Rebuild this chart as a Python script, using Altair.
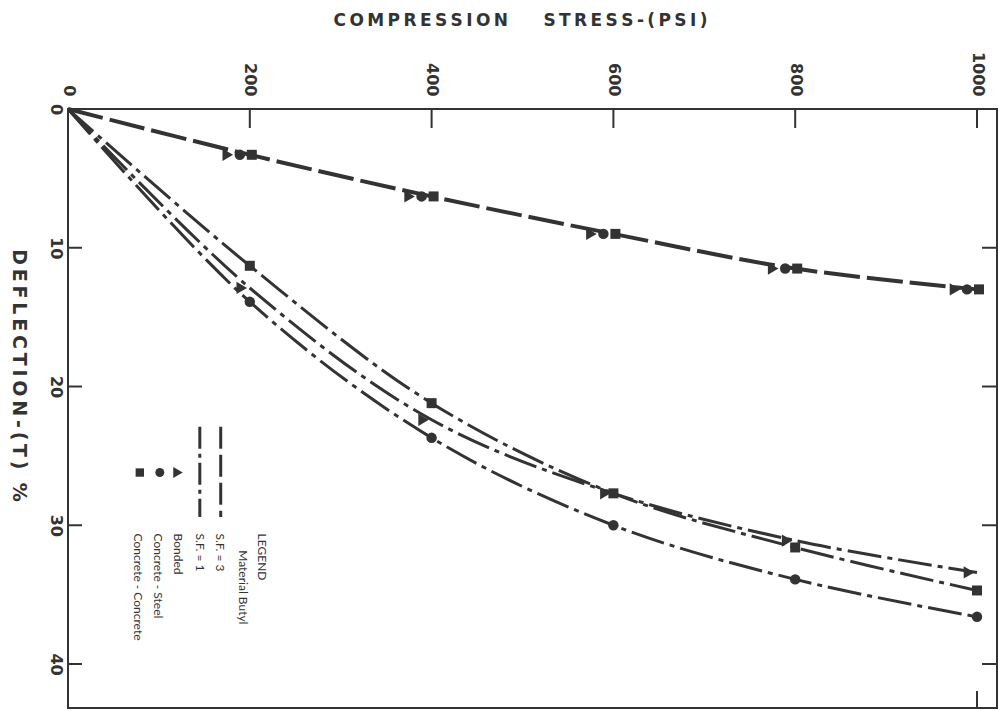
import altair as alt
import pandas as pd

# ---- data ----
stress = [0, 200, 400, 600, 800, 1000]
butyl_sf3 = [0, 3.3, 6.3, 9.0, 11.5, 13.0]          # all three materials coincide
bonded_sf1 = [0, 12.9, 22.4, 27.7, 31.1, 33.4]      # triangles
cc_sf1 = [0, 11.3, 21.2, 27.7, 31.6, 34.7]          # squares (Concrete - Concrete)
cs_sf1 = [0, 13.9, 23.7, 30.0, 33.9, 36.6]          # circles (Concrete - Steel)

x_label_values = [0, 200, 400, 600, 800, 1000]
y_label_values = [0, 10, 20, 30, 40]
x_tick_values = [200, 400, 600, 800, 1000]
y_tick_values = [10, 20, 30, 40]
bottom_tick_values = [1000]

legend_texts = ["LEGEND", "Material Butyl", "S.F. = 3", "S.F. = 1",
                "Bonded", "Concrete - Steel", "Concrete - Concrete"]
legend_text_x = [213, 193, 167, 145, 121, 99, 77]
legend_text_y = [30.6, 31.8, 30.6, 30.6, 30.6, 30.6, 30.6]
legend_line_x = [168, 145]
legend_line_dash = ["sf3", "sf1"]
legend_line_y0 = [22.9, 22.9]
legend_line_y1 = [29.4, 29.4]
legend_marker_x = [121, 101, 79]
legend_marker_shape = ["triangle-right", "circle", "square"]
legend_marker_y = [26.2, 26.2, 26.2]

INK = "#333333"
W, H = 929, 599
TS = "\u2009"  # thin space, used to letter-space the titles


def spaced(word):
    return TS.join(word)


x_title = spaced("COMPRESSION") + "\u00a0" * 6 + spaced("STRESS-(PSI)")
y_title = spaced("DEFLECTION") + TS + "-" + TS + spaced("(T)") + "\u00a0\u00a0" + "%"

xscale = alt.Scale(domain=[0, 1022], nice=False, zero=False)
yscale = alt.Scale(domain=[0, 43.17], nice=False, zero=False, reverse=True)

xaxis = alt.Axis(orient="top", values=x_label_values, format="d", labelAngle=90,
                 labelAlign="right", labelBaseline="middle",
                 labelFont="DejaVu Sans", labelFontWeight="bold", labelFontSize=16,
                 labelColor=INK, labelPadding=13, labelFlush=False,
                 ticks=False, tickSize=0, domain=False, grid=False,
                 title=x_title,
                 titleFont="DejaVu Sans", titleFontWeight="bold", titleFontSize=17,
                 titleColor=INK, titleX=452, titleY=-89, titleAngle=0,
                 titleAlign="center", titleBaseline="middle")
yaxis = alt.Axis(orient="left", values=y_label_values, format="d", labelAngle=90,
                 labelAlign="center", labelBaseline="top",
                 labelFont="DejaVu Sans", labelFontWeight="bold", labelFontSize=16,
                 labelColor=INK, labelPadding=5, labelFlush=False,
                 ticks=False, tickSize=0, domain=False, grid=False,
                 title=y_title,
                 titleFont="DejaVu Sans", titleFontWeight="bold", titleFontSize=19,
                 titleColor=INK, titleX=-50, titleY=266, titleAngle=90,
                 titleAlign="center", titleBaseline="middle")

rows = []
for name, vals, grp in [("Butyl", butyl_sf3, "sf3"), ("Bonded", bonded_sf1, "sf1"),
                        ("Concrete - Concrete", cc_sf1, "sf1"),
                        ("Concrete - Steel", cs_sf1, "sf1")]:
    for s, d in zip(stress, vals):
        rows.append({"series": name, "group": grp, "stress": s, "defl": d})
df = pd.DataFrame(rows)
pts = df[df["stress"] > 0]


def X():
    return alt.X("stress:Q", scale=xscale, axis=xaxis)


def Y():
    return alt.Y("defl:Q", scale=yscale, axis=yaxis)


top_line = alt.Chart(df[df["group"] == "sf3"]).mark_line(
    color=INK, strokeWidth=4, strokeDash=[36, 7], interpolate="catmull-rom"
).encode(x=X(), y=Y(), detail="series:N")

low_lines = alt.Chart(df[df["group"] == "sf1"]).mark_line(
    color=INK, strokeWidth=3, strokeDash=[34, 6, 5, 6], interpolate="catmull-rom"
).encode(x=X(), y=Y(), detail="series:N")

top_pts = pts[pts["group"] == "sf3"]
layers_pts = []
for shape, off, size in [("triangle-right", -22, 150), ("circle", -10, 110), ("square", 2, 100)]:
    layers_pts.append(alt.Chart(top_pts).mark_point(
        shape=shape, filled=True, color=INK, opacity=1, size=size, xOffset=off
    ).encode(x=X(), y=Y()))

for name, shape, off, size in [("Bonded", "triangle-right", -8, 150),
                               ("Concrete - Steel", "circle", 0, 110),
                               ("Concrete - Concrete", "square", 0, 100)]:
    layers_pts.append(alt.Chart(pts[pts["series"] == name]).mark_point(
        shape=shape, filled=True, color=INK, opacity=1, size=size, xOffset=off
    ).encode(x=X(), y=Y()))

# inward tick marks on the frame
top_ticks = alt.Chart(pd.DataFrame({"stress": x_tick_values})).mark_rule(
    color=INK, strokeWidth=2).encode(x=X(), y=alt.value(0), y2=alt.value(19))
bot_ticks = alt.Chart(pd.DataFrame({"stress": bottom_tick_values})).mark_rule(
    color=INK, strokeWidth=2).encode(x=X(), y=alt.value(H - 17), y2=alt.value(H))
left_ticks = alt.Chart(pd.DataFrame({"defl": y_tick_values})).mark_rule(
    color=INK, strokeWidth=2).encode(y=Y(), x=alt.value(0), x2=alt.value(14))
right_ticks = alt.Chart(pd.DataFrame({"defl": y_tick_values})).mark_rule(
    color=INK, strokeWidth=2).encode(y=Y(), x=alt.value(W - 15), x2=alt.value(W))

# hand-drawn legend
leg_txt = alt.Chart(pd.DataFrame({"stress": legend_text_x, "defl": legend_text_y,
                                  "label": legend_texts})).mark_text(
    angle=90, align="left", baseline="middle", font="Lato", fontSize=12, color=INK
).encode(x=X(), y=Y(), text="label:N")

leg_df = pd.DataFrame({"stress": legend_line_x, "defl": legend_line_y0,
                       "defl2": legend_line_y1, "g": legend_line_dash})
leg_sf3 = alt.Chart(leg_df[leg_df["g"] == "sf3"]).mark_rule(
    color=INK, strokeWidth=3, strokeDash=[22, 6]).encode(x=X(), y=Y(), y2="defl2:Q")
leg_sf1 = alt.Chart(leg_df[leg_df["g"] == "sf1"]).mark_rule(
    color=INK, strokeWidth=3, strokeDash=[22, 5, 4, 5]).encode(x=X(), y=Y(), y2="defl2:Q")

leg_marks = []
mdf = pd.DataFrame({"stress": legend_marker_x, "defl": legend_marker_y,
                    "shape": legend_marker_shape})
for shape, size in [("triangle-right", 120), ("circle", 80), ("square", 70)]:
    leg_marks.append(alt.Chart(mdf[mdf["shape"] == shape]).mark_point(
        shape=shape, filled=True, color=INK, opacity=1, size=size
    ).encode(x=X(), y=Y()))

chart = alt.layer(
    top_line, low_lines, *layers_pts,
    top_ticks, bot_ticks, left_ticks, right_ticks,
    leg_txt, leg_sf3, leg_sf1, *leg_marks
).properties(
    width=W, height=H,
    autosize=alt.AutoSizeParams(type="none"),
    padding={"left": 68, "top": 109, "right": 11, "bottom": 3},
    background="white",
).configure_view(stroke=INK, strokeWidth=2)

chart.save("out.html", embed_options={"renderer": "svg", "actions": False})
